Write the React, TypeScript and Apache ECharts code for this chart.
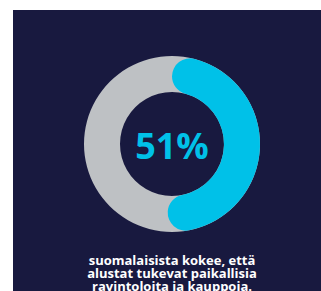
import React, { useEffect, useRef } from "react";
import * as echarts from "echarts";

const categories = ["Kokee", "Muut"];
const values = [51, 49];
const centerLabel = "51%";
const captionLines = [
  "suomalaisista kokee, että",
  "alustat tukevat paikallisia",
  "ravintoloita ja kauppoja.",
];

export default function App() {
  const ref = useRef<HTMLDivElement>(null);
  useEffect(() => {
    if (!ref.current) return;
    const chart = echarts.init(ref.current, undefined, { renderer: "svg" });
    chart.setOption({
      animation: false,
      backgroundColor: "#ffffff",
      graphic: [
        {
          type: "rect",
          z: -10,
          shape: { x: 13, y: 10, width: 308, height: 281 },
          style: { fill: "#18193f" },
        },
        {
          type: "text",
          z: 10,
          x: 172,
          y: 145,
          style: {
            text: centerLabel,
            fill: "#00c1e8",
            font: "bold 36px 'Open Sans'",
            align: "center",
            verticalAlign: "middle",
          },
        },
        ...captionLines.map((line, i) => ({
          type: "text",
          z: 10,
          x: 172,
          y: 260 + i * 13,
          style: {
            text: line,
            fill: "#ffffff",
            font: "bold 13px 'Open Sans'",
            lineHeight: 12,
            align: "center",
            verticalAlign: "middle",
          },
        })),
      ],
      series: [
        {
          type: "pie",
          silent: true,
          center: [172, 144],
          radius: [52, 88],
          label: { show: false },
          labelLine: { show: false },
          data: [{ value: 1, name: "bg", itemStyle: { color: "#bec1c4" } }],
          z: 1,
        },
        {
          type: "pie",
          silent: true,
          center: [172, 144],
          radius: [52, 88],
          startAngle: 90,
          clockwise: true,
          label: { show: false },
          labelLine: { show: false },
          z: 2,
          data: categories.map((c, i) => ({
            name: c,
            value: values[i],
            itemStyle:
              i === 0
                ? { color: "#00c1e8", borderRadius: 18 }
                : { color: "rgba(0,0,0,0)" },
          })),
        },
      ],
    });
    return () => chart.dispose();
  }, []);
  return (
    <div
      ref={ref}
      style={{ position: "absolute", left: 0, top: 0, width: 321, height: 291 }}
    />
  );
}
